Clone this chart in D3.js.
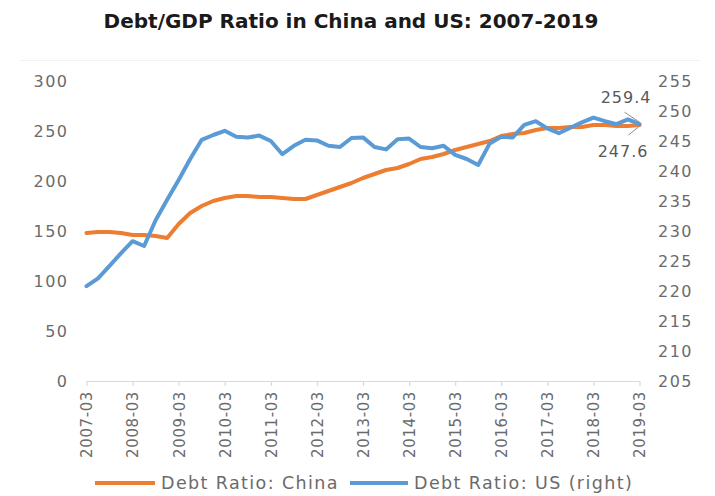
<!DOCTYPE html>
<html>
<head>
<meta charset="utf-8">
<script src="https://cdn.jsdelivr.net/npm/d3@7"></script>
<style>
  html, body { margin: 0; padding: 0; background: #fff; }
  svg { display: block; }
</style>
</head>
<body>
<svg id="chart" width="715" height="496"></svg>
<script>
const quarters = [
  "2007-03","2007-06","2007-09","2007-12",
  "2008-03","2008-06","2008-09","2008-12",
  "2009-03","2009-06","2009-09","2009-12",
  "2010-03","2010-06","2010-09","2010-12",
  "2011-03","2011-06","2011-09","2011-12",
  "2012-03","2012-06","2012-09","2012-12",
  "2013-03","2013-06","2013-09","2013-12",
  "2014-03","2014-06","2014-09","2014-12",
  "2015-03","2015-06","2015-09","2015-12",
  "2016-03","2016-06","2016-09","2016-12",
  "2017-03","2017-06","2017-09","2017-12",
  "2018-03","2018-06","2018-09","2018-12",
  "2019-03"
];
const chinaRatio = [
  148,149,149,148, 146,146,145,143, 157,168,175,180,
  183,185,185,184, 184,183,182,182, 186,190,194,198,
  203,207,211,213, 217,222,224,227, 231,234,237,240,
  245,247,248,251, 253,253,254,254, 256,256,255,255,
  256
];
const usRatio = [
  220.8,222.1,224.2,226.3, 228.3,227.5,231.8,235.2,
  238.5,242.0,245.2,246.0, 246.7,245.7,245.6,245.9,
  245.0,242.8,244.2,245.2, 245.1,244.2,244.0,245.5,
  245.6,244.0,243.6,245.3, 245.4,244.0,243.8,244.2,
  242.7,242.0,241.0,244.6, 245.7,245.6,247.7,248.3,
  247.1,246.3,247.2,248.1, 248.9,248.3,247.8,248.6,
  247.8
];
const leftTicks = [0, 50, 100, 150, 200, 250, 300];
const rightTicks = [205, 210, 215, 220, 225, 230, 235, 240, 245, 250, 255];
const xTickLabels = ["2007-03","2008-03","2009-03","2010-03","2011-03","2012-03","2013-03",
                     "2014-03","2015-03","2016-03","2017-03","2018-03","2019-03"];
const seriesNames = ["Debt Ratio: China", "Debt Ratio: US (right)"];
const endLabels = ["259.4", "247.6"];
const titleText = "Debt/GDP Ratio in China and US: 2007-2019";

const svg = d3.select("#chart");
const ORANGE = "#ED7D31", BLUE = "#5B9BD5", GREY = "#6b6b6b";
const FONT = "'DejaVu Sans', sans-serif";

const x = d3.scalePoint().domain(quarters).range([86.5, 639.5]);
const yL = d3.scaleLinear().domain([0, 300]).range([381, 81]);
const yR = d3.scaleLinear().domain([205, 255]).range([381, 81]);

// faint frame line
svg.append("line").attr("x1", 20).attr("x2", 700).attr("y1", 60.5).attr("y2", 60.5)
  .attr("stroke", "#f2f2f2").attr("stroke-width", 1);

// title
svg.append("text").attr("x", 351).attr("y", 28).attr("text-anchor", "middle")
  .attr("font-family", FONT).attr("font-weight", "bold").attr("font-size", 20)
  .attr("fill", "#1a1a1a").text(titleText);

// left axis
const gL = svg.append("g").attr("transform", "translate(86.5,0)")
  .call(d3.axisLeft(yL).tickValues(leftTicks).tickSize(0).tickPadding(18));
gL.select(".domain").remove();
gL.selectAll("text").attr("font-family", FONT).attr("font-size", 16)
  .attr("letter-spacing", "1.5px").attr("fill", GREY).attr("dy", "0.36em");

// right axis
const gR = svg.append("g").attr("transform", "translate(639.5,0)")
  .call(d3.axisRight(yR).tickValues(rightTicks).tickSize(0).tickPadding(18.5));
gR.select(".domain").remove();
gR.selectAll("text").attr("font-family", FONT).attr("font-size", 16)
  .attr("letter-spacing", "1.5px").attr("fill", GREY).attr("dy", "0.36em");

// bottom axis
const gB = svg.append("g").attr("transform", "translate(0,381)")
  .call(d3.axisBottom(x).tickValues(xTickLabels).tickSizeInner(5).tickSizeOuter(0).tickPadding(0));
gB.select(".domain").attr("stroke", "#d9d9d9").attr("stroke-width", 1.2);
gB.selectAll(".tick line").attr("stroke", "#d9d9d9").attr("stroke-width", 1.2);
gB.selectAll("text")
  .attr("font-family", FONT).attr("font-size", 15).attr("fill", GREY)
  .attr("letter-spacing", "0.6px")
  .attr("text-anchor", "end")
  .attr("transform", "translate(0,10) rotate(-90)")
  .attr("x", 0).attr("y", 0).attr("dy", "0.36em");

// lines
const lineL = d3.line().x((d, i) => x(quarters[i])).y(d => yL(d)).curve(d3.curveLinear);
const lineR = d3.line().x((d, i) => x(quarters[i])).y(d => yR(d)).curve(d3.curveLinear);

svg.append("path").datum(chinaRatio).attr("d", lineL)
  .attr("fill", "none").attr("stroke", ORANGE).attr("stroke-width", 4)
  .attr("stroke-linejoin", "round").attr("stroke-linecap", "round");
svg.append("path").datum(usRatio).attr("d", lineR)
  .attr("fill", "none").attr("stroke", BLUE).attr("stroke-width", 4)
  .attr("stroke-linejoin", "round").attr("stroke-linecap", "round");

// end callouts
const lastQ = quarters[quarters.length - 1];
const ex = x(lastQ);
const eyUS = yR(usRatio[usRatio.length - 1]);
const eyCN = yL(chinaRatio[chinaRatio.length - 1]);
svg.append("line").attr("x1", ex - 15).attr("y1", eyUS - 12).attr("x2", ex).attr("y2", eyUS - 2)
  .attr("stroke", "#8c8c8c").attr("stroke-width", 1);
svg.append("line").attr("x1", ex - 11).attr("y1", eyCN + 10).attr("x2", ex - 1).attr("y2", eyCN + 2)
  .attr("stroke", "#8c8c8c").attr("stroke-width", 1);
svg.append("text").attr("x", ex + 12).attr("y", eyUS - 21).attr("text-anchor", "end")
  .attr("font-family", FONT).attr("font-size", 16).attr("letter-spacing", "1px")
  .attr("fill", "#595959").text(endLabels[0]);
svg.append("text").attr("x", ex + 9).attr("y", eyCN + 32).attr("text-anchor", "end")
  .attr("font-family", FONT).attr("font-size", 16).attr("letter-spacing", "1px")
  .attr("fill", "#595959").text(endLabels[1]);

// legend
const legend = [
  { name: seriesNames[0], color: ORANGE, x1: 95, x2: 155, tx: 161 },
  { name: seriesNames[1], color: BLUE, x1: 350, x2: 408, tx: 414 }
];
legend.forEach(l => {
  svg.append("line").attr("x1", l.x1).attr("x2", l.x2).attr("y1", 483).attr("y2", 483)
    .attr("stroke", l.color).attr("stroke-width", 4);
  svg.append("text").attr("x", l.tx).attr("y", 483).attr("dy", "0.36em")
    .attr("font-family", FONT).attr("font-size", 17.5).attr("letter-spacing", "1.4px")
    .attr("fill", GREY).text(l.name);
});
</script>
</body>
</html>
